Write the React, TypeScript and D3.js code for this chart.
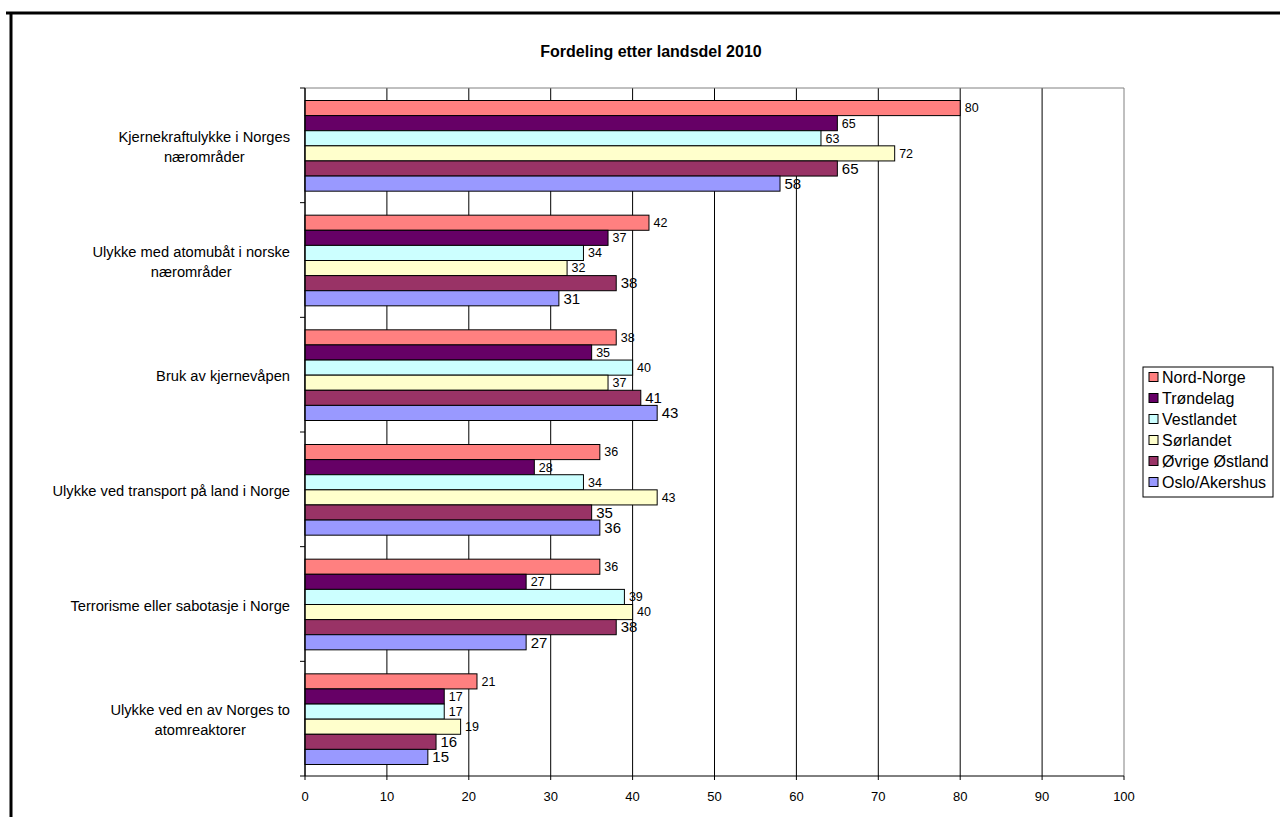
import React from "react";
import * as d3 from "d3";

const categories = [
  ["Kjernekraftulykke i Norges", "nærområder"],
  ["Ulykke med atomubåt i norske", "nærområder"],
  ["Bruk av kjernevåpen"],
  ["Ulykke ved transport på land i Norge"],
  ["Terrorisme eller sabotasje i Norge"],
  ["Ulykke ved en av Norges to", "atomreaktorer"],
];
const seriesNames = ["Nord-Norge", "Trøndelag", "Vestlandet", "Sørlandet", "Øvrige Østland", "Oslo/Akershus"];
const seriesColors = ["#FF8080", "#660066", "#CCFFFF", "#FFFFCC", "#993366", "#9999FF"];
const nordNorge = [80, 42, 38, 36, 36, 21];
const trondelag = [65, 37, 35, 28, 27, 17];
const vestlandet = [63, 34, 40, 34, 39, 17];
const sorlandet = [72, 32, 37, 43, 40, 19];
const ovrigeOstland = [65, 38, 41, 35, 38, 16];
const osloAkershus = [58, 31, 43, 36, 27, 15];
const seriesValues = [nordNorge, trondelag, vestlandet, sorlandet, ovrigeOstland, osloAkershus];
const xTicks = [0, 10, 20, 30, 40, 50, 60, 70, 80, 90, 100];
const title = "Fordeling etter landsdel 2010";

const FONT = "'Liberation Sans', Arial, sans-serif";
const CAT_FS = 14.7;

function measure(text: string, size: number): number {
  try {
    const c = document.createElement("canvas").getContext("2d");
    if (c) {
      c.font = `${size}px 'Liberation Sans', Arial, sans-serif`;
      return c.measureText(text).width;
    }
  } catch (e) {}
  return text.length * size * 0.5;
}

export default function App() {
  const W = 1280, H = 817;
  const x = d3.scaleLinear().domain([0, 100]).range([305, 1124]);
  const y = d3.scaleBand<number>().domain(d3.range(categories.length)).range([88, 776]);
  const bw = y.bandwidth();
  const sub = d3.scaleBand<number>().domain(d3.range(seriesNames.length)).range([12.5, bw - 11.5]);
  const bh = sub.bandwidth();

  return (
    <div style={{ position: "absolute", left: 0, top: 0 }}>
      <svg width={W} height={H} style={{ display: "block", fontFamily: FONT }}>
        <rect x={0} y={0} width={W} height={H} fill="#fff" />
        {/* document frame */}
        <line x1={6} x2={W} y1={13} y2={13} stroke="#000" strokeWidth={3} />
        <line x1={11} x2={11} y1={12} y2={H} stroke="#000" strokeWidth={3} />

        <text x={651} y={57} textAnchor="middle" fontSize={16} fontWeight="bold">{title}</text>

        {/* gridlines */}
        {xTicks.map((t) => (
          <line key={"g" + t} x1={x(t)} x2={x(t)} y1={88} y2={776}
            stroke={t === 100 ? "#808080" : "#000"} strokeWidth={1} />
        ))}
        <line x1={305} x2={1124} y1={88} y2={88} stroke="#808080" strokeWidth={1} />

        {/* bars */}
        {categories.map((_, ci) =>
          seriesValues.map((vals, si) => {
            const y0 = (y(ci) as number) + (sub(si) as number);
            return (
              <rect key={`b${ci}-${si}`} x={x(0)} y={y0} width={x(vals[ci]) - x(0)} height={bh}
                fill={seriesColors[si]} stroke="#000" strokeWidth={1} />
            );
          })
        )}
        {/* value labels */}
        {categories.map((_, ci) =>
          seriesValues.map((vals, si) => {
            const y0 = (y(ci) as number) + (sub(si) as number) + bh / 2;
            const big = si >= 4;
            return (
              <text key={`v${ci}-${si}`} x={x(vals[ci]) + 4.5} y={y0} dy="0.35em"
                fontSize={big ? 15 : 12.5}>{vals[ci]}</text>
            );
          })
        )}

        {/* axes */}
        <line x1={305} x2={305} y1={88} y2={776} stroke="#000" />
        <line x1={305} x2={1124} y1={776} y2={776} stroke="#000" />
        {d3.range(categories.length + 1).map((i) => {
          const yy = 88 + i * bw;
          return <line key={"ct" + i} x1={300} x2={305} y1={yy} y2={yy} stroke="#000" />;
        })}
        {xTicks.map((t) => (
          <g key={"xt" + t}>
            <line x1={x(t)} x2={x(t)} y1={776} y2={780} stroke="#000" />
            <text x={x(t)} y={801} textAnchor="middle" fontSize={13}>{t}</text>
          </g>
        ))}

        {/* category labels */}
        {categories.map((lines, ci) => {
          const cy = (y(ci) as number) + bw / 2 + 1.5;
          const lh = 20;
          const maxW = Math.max(...lines.map((l) => measure(l, CAT_FS)));
          const cx = 290 - maxW / 2;
          return (
            <text key={"cl" + ci} x={cx} textAnchor="middle" fontSize={CAT_FS}>
              {lines.map((l, li) => (
                <tspan key={li} x={cx} y={cy + (li - (lines.length - 1) / 2) * lh} dy="0.35em">{l}</tspan>
              ))}
            </text>
          );
        })}

        {/* legend */}
        <rect x={1143} y={367} width={130} height={130} fill="#fff" stroke="#000" strokeWidth={1} />
        {seriesNames.map((n, i) => {
          const ly = 377 + i * 21;
          return (
            <g key={"lg" + i}>
              <rect x={1149} y={ly - 4.5} width={9} height={9} fill={seriesColors[i]} stroke="#000" />
              <text x={1162} y={ly} dy="0.35em" fontSize={16}>{n}</text>
            </g>
          );
        })}
      </svg>
    </div>
  );
}
